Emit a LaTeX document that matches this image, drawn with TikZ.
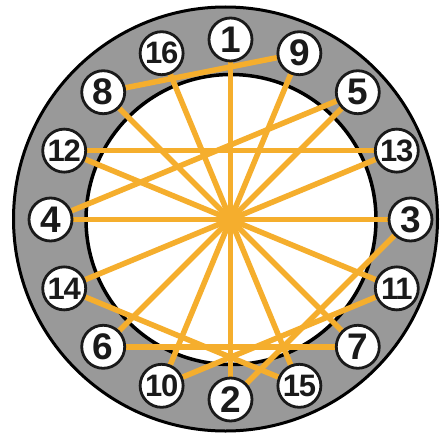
\documentclass[tikz,border=0pt]{standalone}
\usepackage{fontspec}
\setmainfont{Liberation Sans}
\definecolor{ringgray}{RGB}{153,153,153}
\definecolor{lineorange}{RGB}{245,174,45}
\definecolor{digitblack}{RGB}{26,26,26}
\pgfdeclarelayer{back}
\pgfdeclarelayer{mid}
\pgfsetlayers{back,mid,main}
\begin{document}
\begin{tikzpicture}[x=1pt,y=1pt,
  numnode/.style={circle, draw=digitblack, line width=2.8pt, fill=white,
    minimum size=43pt, inner sep=0pt, text=digitblack,
    font=\fontsize{37}{37}\selectfont\bfseries},
  numsmall/.style={numnode, font=\fontsize{31}{31}\selectfont\bfseries\addfontfeatures{LetterSpace=-4}},
  chord/.style={draw=lineorange, line width=5.5pt}]
\useasboundingbox (0,0) rectangle (441,-436);
\begin{pgfonlayer}{back}
  \fill[ringgray, draw=black, line width=3pt] (225.5,-219) circle (212);
  \fill[white, draw=black, line width=3.5pt] (231,-219.5) circle (145);
\end{pgfonlayer}
\begin{scope}[shift={(230.5,-219.5)}]
  \node[numnode]  (n1)  at (90:180)     {1};
  \node[numnode]  (n9)  at (67.5:180)   {9};
  \node[numnode]  (n5)  at (45:180)     {5};
  \node[numsmall] (n13) at (22.5:180)   {13};
  \node[numnode]  (n3)  at (0:180)      {3};
  \node[numsmall] (n11) at (-22.5:180)  {11};
  \node[numnode]  (n7)  at (-45:180)    {7};
  \node[numsmall] (n15) at (-67.5:180)  {15};
  \node[numnode]  (n2)  at (-90:180)    {2};
  \node[numsmall] (n10) at (-112.5:180) {10};
  \node[numnode]  (n6)  at (-135:180)   {6};
  \node[numsmall] (n14) at (-157.5:180) {14};
  \node[numnode]  (n4)  at (180:180)    {4};
  \node[numsmall] (n12) at (157.5:180)  {12};
  \node[numnode]  (n8)  at (135:180)    {8};
  \node[numsmall] (n16) at (112.5:180)  {16};
\end{scope}
\begin{pgfonlayer}{mid}
  \draw[chord] (n1) -- (n2);
  \draw[chord] (n2) -- (n3);
  \draw[chord] (n3) -- (n4);
  \draw[chord] (n4) -- (n5);
  \draw[chord] (n5) -- (n6);
  \draw[chord] (n6) -- (n7);
  \draw[chord] (n7) -- (n8);
  \draw[chord] (n8) -- (n9);
  \draw[chord] (n9) -- (n10);
  \draw[chord] (n10) -- (n11);
  \draw[chord] (n11) -- (n12);
  \draw[chord] (n12) -- (n13);
  \draw[chord] (n13) -- (n14);
  \draw[chord] (n14) -- (n15);
  \draw[chord] (n15) -- (n16);
\end{pgfonlayer}
\end{tikzpicture}
\end{document}
